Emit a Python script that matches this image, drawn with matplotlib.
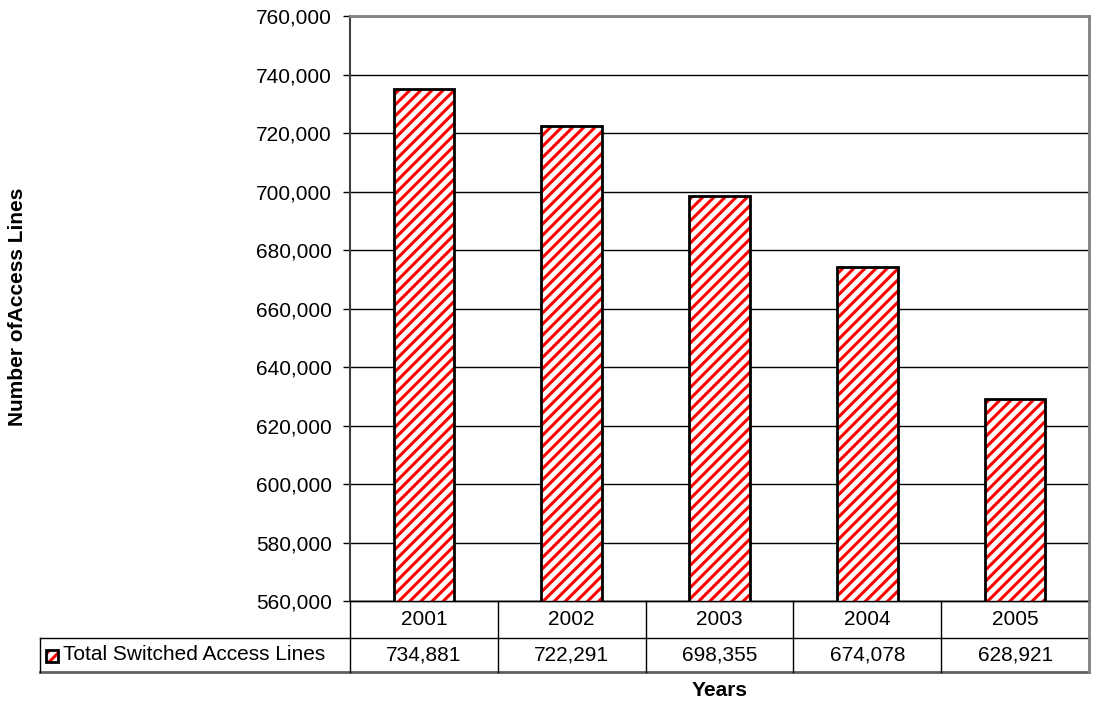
import matplotlib.pyplot as plt
from matplotlib.patches import Rectangle

plt.rcParams['font.family'] = ['Liberation Sans', 'DejaVu Sans']
plt.rcParams['hatch.linewidth'] = 2.2

years = ['2001', '2002', '2003', '2004', '2005']
access_lines = [734881, 722291, 698355, 674078, 628921]
series_name = 'Total Switched Access Lines'

W, H = 1093, 704
fig = plt.figure(figsize=(W / 100, H / 100), dpi=100)

# plot area in pixels: x 350..1089, y 16..601
x0, x1, y0, y1 = 350, 1089, 16, 601
ax = fig.add_axes([x0 / W, 1 - y1 / H, (x1 - x0) / W, (y1 - y0) / H])

pos = range(len(years))
# hatched fill (red lines), then black outline on top
ax.bar(pos, access_lines, width=0.41, bottom=0, color='white',
       edgecolor='red', hatch='///', linewidth=0, zorder=3)
ax.bar(pos, access_lines, width=0.41, fill=False, edgecolor='black',
       linewidth=2, zorder=4)

ax.set_xlim(-0.5, len(years) - 0.5)
ax.set_ylim(560000, 760000)
ax.set_yticks(range(560000, 760001, 20000))
ax.set_yticklabels(['{:,}'.format(v) for v in range(560000, 760001, 20000)], fontsize=15)
ax.yaxis.grid(True, color='black', linewidth=1)
ax.set_axisbelow(True)
ax.set_xticks([])
ax.tick_params(axis='y', length=5, width=1, pad=8)

for s in ['top', 'right']:
    ax.spines[s].set_color('#808080')
    ax.spines[s].set_linewidth(2)
ax.spines['left'].set_color('#404040')
ax.spines['left'].set_linewidth(1.5)
ax.spines['bottom'].set_linewidth(1)

# data table beneath the plot (figure pixel coords)
def px(x, y):
    return x / W, 1 - y / H

def hline(xa, xb, y, color='black', lw=1):
    fig.add_artist(plt.Line2D([xa / W, xb / W], [1 - y / H, 1 - y / H], color=color, lw=lw))

def vline(x, ya, yb, color='black', lw=1):
    fig.add_artist(plt.Line2D([x / W, x / W], [1 - ya / H, 1 - yb / H], color=color, lw=lw))

row1, row2, row3 = 601, 638, 672
col_w = (x1 - x0) / len(years)
hline(x0, x1, row1)
hline(40, x1, row2)
hline(40, x1, row3, color='#606060', lw=2)
vline(40, row2, row3)
vline(x1, row1, row3, color='#808080', lw=2)
for i in range(len(years)):
    vline(x0 + i * col_w, row1, row3)
for i, (yr, v) in enumerate(zip(years, access_lines)):
    cx = x0 + (i + 0.5) * col_w
    fig.text(*px(cx, (row1 + row2) / 2), yr, ha='center', va='center', fontsize=15)
    fig.text(*px(cx, (row2 + row3) / 2), '{:,}'.format(v), ha='center', va='center', fontsize=15)

# legend key
kx, ky = px(46, 662)
fig.add_artist(Rectangle((kx, ky), 12 / W, 12 / H, transform=fig.transFigure,
                         facecolor='white', edgecolor='red', hatch='///', linewidth=0))
fig.add_artist(Rectangle((kx, ky), 12 / W, 12 / H, transform=fig.transFigure,
                         fill=False, edgecolor='black', linewidth=2))
fig.text(*px(63, (row2 + row3) / 2), series_name, ha='left', va='center', fontsize=15)

fig.text(*px(720, 690), 'Years', ha='center', va='center', fontsize=15, fontweight='bold')
fig.text(*px(18, 307), 'Number ofAccess Lines', ha='center', va='center', rotation=90,
         fontsize=15, fontweight='bold')

fig.savefig('out.png', dpi=100)
